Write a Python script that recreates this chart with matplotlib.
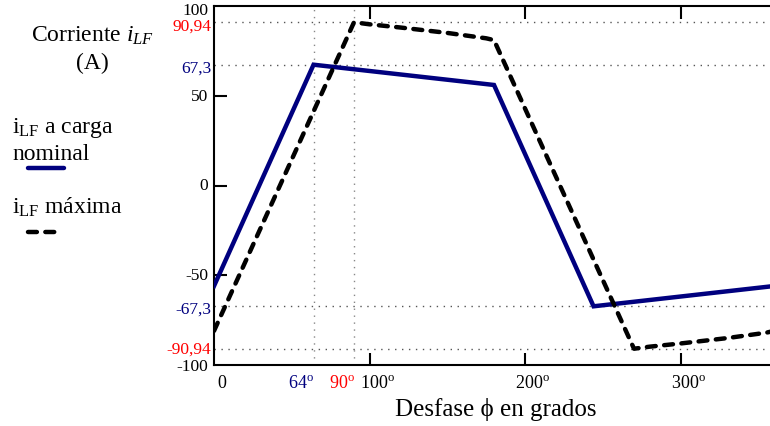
import matplotlib
matplotlib.use("Agg")
import matplotlib.pyplot as plt
from matplotlib.lines import Line2D
import matplotlib.transforms as mtransforms

plt.rcParams['font.family'] = ['Liberation Serif', 'DejaVu Serif']
plt.rcParams['mathtext.fontset'] = 'custom'
plt.rcParams['mathtext.rm'] = 'Liberation Serif'
plt.rcParams['mathtext.it'] = 'Liberation Serif:italic'

NAVY = '#00007f'
RED = '#ff0000'

# data
phi_nom = [0, 64, 180, 244, 360]
i_nom = [-56, 67.3, 56, -67.3, -56]

phi_max = [0, 90, 100, 120, 150, 175, 180, 270, 280, 300, 330, 355, 360]
i_max = [-81, 90.94, 89.8, 88, 85, 82, 81, -90.94, -89.8, -88, -85, -82, -81]

y_marks = [90.94, 67.3, -67.3, -90.94]
y_mark_labels = ['90,94', '67,3', '-67,3', '-90,94']
y_mark_colors = [RED, NAVY, NAVY, RED]
y_mark_shift = [-3, -3, -2, 0]
x_marks = [64, 90]
x_mark_colors = [NAVY, RED]
y_ticks = [100, 50, 0, -50, -100]
x_ticks = [100, 200, 300]

fig = plt.figure(figsize=(7.7, 4.27), dpi=100)
ax = fig.add_axes([214 / 770, 1 - 366 / 427, 560 / 770, 359 / 427])
ax.set_xlim(0, 360)
ax.set_ylim(-100, 100)

# dotted reference lines
for v in y_marks:
    ax.axhline(v, color='#555555', lw=1, ls=(0, (1, 4)), zorder=1)
for v in x_marks:
    ax.axvline(v, color='#888888', lw=1, ls=(0, (1, 4)), zorder=1)

ax.plot(phi_nom, i_nom, color=NAVY, lw=3.2, solid_joinstyle='miter', zorder=3)
ax.plot(phi_max, i_max, color='black', lw=3.2, ls=(0, (2.0, 1.9)),
        dash_capstyle='round', zorder=4)

# axes style
ax.spines['right'].set_visible(False)
for s in ['left', 'bottom', 'top']:
    ax.spines[s].set_linewidth(1.5)
ax.set_yticks([50, 0, -50])
ax.set_yticklabels([])
ax.set_xticks(x_ticks)
ax.set_xticklabels([])
ax.tick_params(direction='in', length=9, width=1.5, top=True, left=True)

tr_y = mtransforms.blended_transform_factory(ax.transAxes, ax.transData)
tr_x = mtransforms.blended_transform_factory(ax.transData, ax.transAxes)

# y tick labels
y_pos = {100: 98, -100: -100.6}
for v in y_ticks:
    ax.text(-0.01, y_pos.get(v, v), str(v), transform=tr_y, ha='right',
            va='center', fontsize=12.5)
for v, lab, c, sh in zip(y_marks, y_mark_labels, y_mark_colors, y_mark_shift):
    t = tr_y + mtransforms.ScaledTranslation(0, sh / 100, fig.dpi_scale_trans)
    ax.text(-0.005, v, lab, transform=t, ha='right', va='center',
            fontsize=12.5, color=c)

# x tick labels
xl_y = -0.025
ax.text(2, xl_y, '0', transform=tr_x, ha='left', va='top', fontsize=13)
for v in x_ticks:
    ax.text(v + 5, xl_y, str(v) + r'$^{\mathrm{o}}$', transform=tr_x,
            ha='center', va='top', fontsize=13)
for v, c in zip(x_marks, x_mark_colors):
    ax.text(v + 0.5, xl_y, str(v) + r'$^{\mathrm{o}}$', transform=tr_x,
            ha='right', va='top', fontsize=13, color=c)

fig.text(496 / 770, 1 - 410 / 427, 'Desfase ϕ en grados', ha='center',
         va='center', fontsize=18)

# y title
fig.text(93 / 770, 1 - 36 / 427, r'Corriente $i_{LF}$', ha='center',
         va='center', fontsize=17)
fig.text(92 / 770, 1 - 63 / 427, '(A)', ha='center', va='center', fontsize=17)

# legend
fig.text(12 / 770, 1 - 128 / 427, r'$\mathrm{i}_{\mathrm{LF}}$ a carga',
         ha='left', va='center', fontsize=17)
fig.text(12 / 770, 1 - 155 / 427, 'nominal', ha='left', va='center', fontsize=17)
fig.text(12 / 770, 1 - 207 / 427, r'$\mathrm{i}_{\mathrm{LF}}$ máxima',
         ha='left', va='center', fontsize=17)
fig.add_artist(Line2D([28 / 770, 64 / 770], [1 - 169 / 427, 1 - 169 / 427],
                      color=NAVY, lw=3.2, solid_capstyle='round'))
fig.add_artist(Line2D([28 / 770, 62 / 770], [1 - 233 / 427, 1 - 233 / 427],
                      color='black', lw=3.2, ls=(0, (2.0, 1.9)),
                      dash_capstyle='round'))

fig.savefig('out.png', dpi=100)
